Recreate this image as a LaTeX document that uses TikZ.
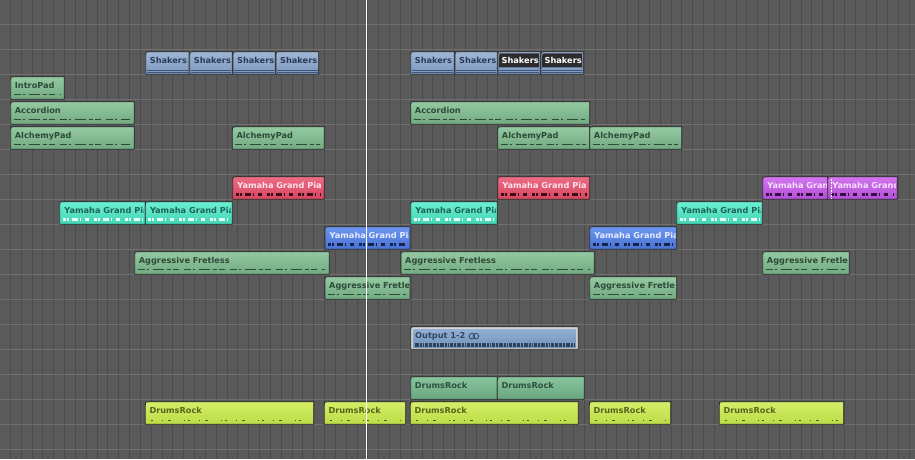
\documentclass[tikz,border=0pt]{standalone}
\usepackage{fontspec}
\setmainfont{DejaVu Sans}
\usepackage{tikz}

\definecolor{bgGrey}{HTML}{5A5A5A}
\definecolor{gridV}{HTML}{4A4A4A}
\definecolor{gridH}{HTML}{707070}
\definecolor{shakersTop}{HTML}{9FB6D6}
\definecolor{shakersBot}{HTML}{7D98BE}
\definecolor{shakersInk}{HTML}{2A3C58}
\definecolor{shakersLine}{HTML}{3E5478}
\definecolor{shakersDark}{HTML}{2C2C2E}
\definecolor{greenTop}{HTML}{94CAA1}
\definecolor{greenBot}{HTML}{72A980}
\definecolor{greenInk}{HTML}{2E4A38}
\definecolor{cyanTop}{HTML}{6AEFD2}
\definecolor{cyanBot}{HTML}{44D6B3}
\definecolor{cyanInk}{HTML}{1E6356}
\definecolor{cyanNote}{HTML}{E6FFF7}
\definecolor{redTop}{HTML}{EC6C86}
\definecolor{redBot}{HTML}{D6465E}
\definecolor{redInk}{HTML}{FFE4EA}
\definecolor{redNote}{HTML}{3C0E18}
\definecolor{purpleTop}{HTML}{D374EE}
\definecolor{purpleBot}{HTML}{B24FD6}
\definecolor{purpleInk}{HTML}{F6E2FF}
\definecolor{purpleNote}{HTML}{34103E}
\definecolor{blueTop}{HTML}{6C96EE}
\definecolor{blueBot}{HTML}{4A72D4}
\definecolor{blueInk}{HTML}{E4ECFF}
\definecolor{blueNote}{HTML}{16234A}
\definecolor{drumsTop}{HTML}{88C49C}
\definecolor{drumsBot}{HTML}{6AA680}
\definecolor{drumsInk}{HTML}{2E5040}
\definecolor{yellowTop}{HTML}{D4EE68}
\definecolor{yellowBot}{HTML}{BCDB46}
\definecolor{yellowInk}{HTML}{55641E}
\definecolor{yellowNote}{HTML}{4A5A18}
\definecolor{outRim}{HTML}{D4D4D4}
\definecolor{outTop}{HTML}{92B0D4}
\definecolor{outBot}{HTML}{7192BA}
\definecolor{outInk}{HTML}{34465F}
\definecolor{outWave}{HTML}{2E425C}

\newcommand{\regionpath}[3]{(#1,#3+22.5) -- (#1,#3+3) .. controls (#1,#3) .. (#1+3,#3) -- (#2,#3) -- (#2,#3+22.5) -- cycle}

\begin{document}
\begin{tikzpicture}[x=1pt, y=-1pt,
    region/.style={draw=black!85, line width=.8pt},
    tag/.style={anchor=base west, inner sep=0pt, font=\fontsize{8.2}{10}\selectfont\bfseries},
    notes/.style={line width=.8pt, dash pattern=on 7pt off 2pt on 2pt off 4pt on 11pt off 3pt on 4pt off 2pt on 6pt off 5pt},
    blocks/.style={line width=3pt, dash pattern=on 3pt off 1pt on 2pt off 3pt on 6pt off 2pt on 1pt off 4pt on 4pt off 5pt},
    hits/.style={line width=1pt, dash pattern=on 2pt off 9pt on 1pt off 5pt on 3pt off 13pt on 1pt off 3pt},
    playhead/.style={draw=white, line width=1pt}]

    \fill[bgGrey] (0,0) rectangle (915,459);
    \useasboundingbox (0,0) rectangle (915,459);
    \foreach \k in {0,...,83} {\draw[gridV, line width=1pt] (10.5+10.83*\k,0) -- (10.5+10.83*\k,459);};
    \foreach \k in {0,...,17} {\draw[gridH, line width=.8pt] (0,24.3+25*\k) -- (915,24.3+25*\k);};

    % shakers
    \foreach \xa/\xb [count=\i] in {145.7/189,189.7/232.3,233/275.3,276/318.7,410.7/454.3,455/497.3} {
      \path[region, top color=shakersTop, bottom color=shakersBot] \regionpath{\xa}{\xb}{51.8};
      \draw[shakersLine, line width=.7pt] (\xa+1,70.3) -- (\xb-1,70.3) (\xa+1,72.5) -- (\xb-1,72.5);
      \begin{scope}
        \clip (\xa,51.8) rectangle (\xb-1.5,74);
        \node[tag, text=shakersInk] (shakers-\i) at (\xa+4,63.6) {Shakers};
      \end{scope}
    };
    \foreach \xa/\xb [count=\i from 7] in {498/540.3,541/583.3} {
      \path[region, top color=shakersTop, bottom color=shakersBot] \regionpath{\xa}{\xb}{51.8};
      \draw[shakersLine, line width=.7pt] (\xa+1,70.3) -- (\xb-1,70.3) (\xa+1,72.5) -- (\xb-1,72.5);
      \fill[shakersDark] (\xa+1.2,67.3) -- (\xa+1.2,56) .. controls (\xa+1.2,53.3) .. (\xa+4,53.3) -- (\xb-1.2,53.3) -- (\xb-1.2,67.3) -- cycle;
      \node[tag, text=white] (shakers-\i) at (\xa+3.5,63.6) {Shakers};
    };

    % pads, accordion, fretless
    \foreach \xa/\xb/\yt/\txt [count=\i] in {10.7/64.3/76.8/IntroPad,10.7/134.3/101.8/Accordion,410.7/589.7/101.8/Accordion,
        10.7/134.3/126.8/AlchemyPad,232.3/324.3/126.8/AlchemyPad,497.7/589.7/126.8/AlchemyPad,589.7/681.7/126.8/AlchemyPad,
        134.7/329.3/251.8/Aggressive Fretless,401/594.3/251.8/Aggressive Fretless,762.7/849.3/251.8/Aggressive Fretle,
        325/410/276.8/Aggressive Fretle,589.7/676.7/276.8/Aggressive Fretle} {
      \path[region, top color=greenTop, bottom color=greenBot] \regionpath{\xa}{\xb}{\yt};
      \begin{scope}
        \clip (\xa,\yt) rectangle (\xb-1.5,\yt+22);
        \node[tag, text=greenInk] (green-\i) at (\xa+4,\yt+11.8) {\txt};
        \draw[notes, greenInk] (\xa+3,\yt+17.5) -- (\xb-4,\yt+17.5);
      \end{scope}
    };

    % yamaha
    \foreach \xa/\xb [count=\i] in {59.7/145.3,145.3/232.3,410.7/497.3,676.7/762.3} {
      \path[region, top color=cyanTop, bottom color=cyanBot] \regionpath{\xa}{\xb}{201.8};
      \begin{scope}
        \clip (\xa,201.8) rectangle (\xb-1.5,224);
        \node[tag, text=cyanInk] (cyan-\i) at (\xa+4.5,213.6) {Yamaha Grand Pia};
        \draw[blocks, cyanNote] (\xa+3,219.8) -- (\xb-3,219.8);
      \end{scope}
    };
    \foreach \xa/\xb/\yt/\hue/\txt [count=\i] in {232.7/324.3/176.8/red/Yamaha Grand Pia,497.7/589.7/176.8/red/Yamaha Grand Pia,
        762.7/827.7/176.8/purple/Yamaha Gran,827.7/897.3/176.8/purple/Yamaha Grand,
        325/410/226.8/blue/Yamaha Grand Pia,589.7/676.7/226.8/blue/Yamaha Grand Pia} {
      \path[region, top color=\hue Top, bottom color=\hue Bot] \regionpath{\xa}{\xb}{\yt};
      \begin{scope}
        \clip (\xa,\yt) rectangle (\xb-1.5,\yt+22);
        \node[tag, text=\hue Ink] (yamaha-\i) at (\xa+4.5,\yt+11.8) {\txt};
        \draw[blocks, draw=\hue Note] (\xa+3,\yt+18) -- (\xb-3,\yt+18);
      \end{scope}
    };
    \draw[white, line width=.6pt, dash pattern=on .8pt off .8pt] (831,178.5) -- (831,198.5);

    % output
    \path[region, fill=outRim] \regionpath{410.7}{578.3}{326.8};
    \path[top color=outTop, bottom color=outBot] (412.8,329) rectangle (576.2,347.3);
    \node[tag, text=outInk] (output) at (415,338.3) {Output 1-2};
    \draw[outInk, line width=.8pt] ([xshift=6.5pt]output.east) circle[radius=2.8pt] ([xshift=10.5pt]output.east) circle[radius=2.8pt];
    \draw[outWave, line width=3.5pt, dash pattern=on 1pt off .6pt on 3pt off 1pt on 2pt off .8pt] (414.5,344.8) -- (574.5,344.8);

    % drums
    \foreach \xa/\xb [count=\i] in {410.7/497.3,497.3/584.3} {
      \path[region, top color=drumsTop, bottom color=drumsBot] \regionpath{\xa}{\xb}{376.8};
      \node[tag, text=drumsInk] (drums-\i) at (\xa+4,388.6) {DrumsRock};
    };
    \foreach \xa/\xb [count=\i] in {145.3/313.7,324.3/405.7,410.3/578.3,589.3/670.7,719.3/843.7} {
      \path[region, top color=yellowTop, bottom color=yellowBot] \regionpath{\xa}{\xb}{401.8};
      \node[tag, text=yellowInk] (beat-\i) at (\xa+4,413.6) {DrumsRock};
      \draw[hits, yellowNote] (\xa+6,420.8) -- (\xb-5,420.8);
    };

    \coordinate (playhead top) at (366.7,0);
    \coordinate (playhead bottom) at (366.7,459);
    \draw[playhead] (playhead top) -- (playhead bottom);
\end{tikzpicture}
\end{document}
